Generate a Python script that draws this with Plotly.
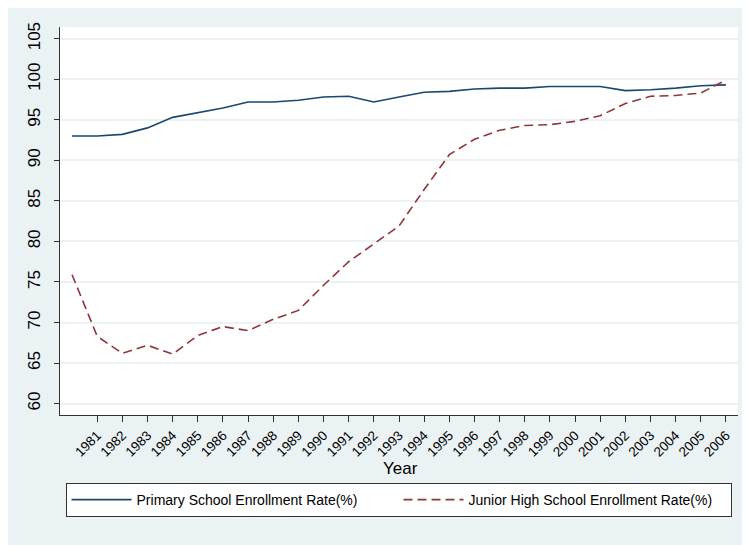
import plotly.graph_objects as go

years = list(range(1980, 2007))
primary = [93.0, 93.0, 93.2, 94.0, 95.3, 95.9, 96.45, 97.2, 97.2, 97.4, 97.8, 97.9,
           97.2, 97.8, 98.4, 98.5, 98.8, 98.9, 98.9, 99.1, 99.1, 99.1, 98.6, 98.7,
           98.9, 99.2, 99.3]
junior = [75.9, 68.3, 66.2, 67.2, 66.1, 68.4, 69.5, 69.0, 70.4, 71.5, 74.6, 77.5,
          79.7, 81.9, 86.4, 90.7, 92.6, 93.7, 94.3, 94.4, 94.8, 95.5, 97.0, 97.9,
          98.0, 98.3, 99.9]
x_ticks = list(range(1981, 2007))
y_ticks = list(range(60, 106, 5))

FONT = "Liberation Sans, Arial, sans-serif"
BG = "#eaf2f3"

fig = go.Figure()
fig.add_trace(go.Scatter(x=years, y=primary, mode="lines",
                         name="Primary School Enrollment Rate(%)",
                         line=dict(color="#1a476f", width=1.6)))
fig.add_trace(go.Scatter(x=years, y=junior, mode="lines",
                         name="Junior High School Enrollment Rate(%)",
                         line=dict(color="#90353b", width=1.6, dash="9px,5px")))

fig.add_annotation(text="Year", xref="paper", yref="paper",
                   x=(392 - 52) / 678, y=(407 - 460) / 388,
                   xanchor="center", yanchor="middle",
                   showarrow=False, font=dict(size=17, family=FONT, color="black"))

fig.update_layout(
    width=750, height=545,
    paper_bgcolor=BG, plot_bgcolor="white",
    margin=dict(l=52, r=20, t=19, b=138),
    font=dict(family=FONT, color="#000000"),
    showlegend=True,
    legend=dict(
        orientation="h",
        xref="container", yref="container",
        x=0.5207, xanchor="center",
        y=1 - 475 / 545, yanchor="top",
        bgcolor="white", bordercolor="#333333", borderwidth=1,
        font=dict(size=14, family=FONT),
        itemwidth=60,
        entrywidth=257,
    ),
    xaxis=dict(
        range=[1979.52, 2006.48],
        tickmode="array", tickvals=x_ticks, ticktext=[str(t) for t in x_ticks],
        tickangle=-45, tickfont=dict(size=13.5),
        ticks="outside", ticklen=6, tickcolor="#333333", tickwidth=1,
        showline=True, linecolor="#333333", linewidth=1.2,
        showgrid=False, zeroline=False,
    ),
    yaxis=dict(
        range=[58.6, 106.44],
        tickmode="array", tickvals=y_ticks, ticktext=[str(t) for t in y_ticks],
        tickangle=270, tickfont=dict(size=17),
        ticklabelstandoff=7,
        ticks="outside", ticklen=5, tickcolor="#333333", tickwidth=1,
        showline=True, linecolor="#333333", linewidth=1.2,
        showgrid=True, gridcolor=BG, gridwidth=1.5,
        zeroline=False,
    ),
)

fig.write_html("out.html")
